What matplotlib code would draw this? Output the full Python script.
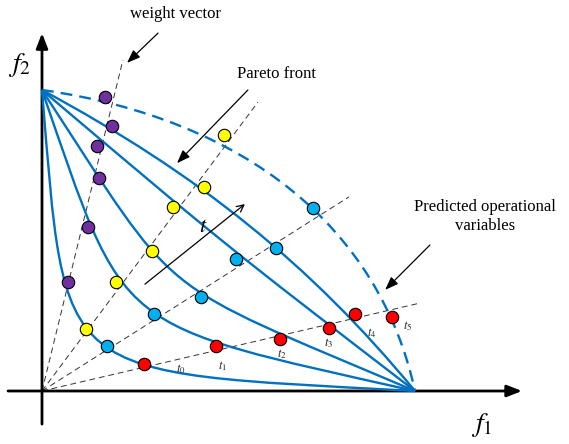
import numpy as np
import matplotlib
matplotlib.use("Agg")
import matplotlib.pyplot as plt
from matplotlib.path import Path
from matplotlib.patches import PathPatch

plt.rcParams['font.family'] = ['Liberation Serif', 'DejaVu Serif']
plt.rcParams['mathtext.fontset'] = 'stix'

# ---- data (objective space, normalised f1/f2 units) ----
curve_labels = ["t0", "t1", "t2", "t3", "t4", "t5"]
front_start = (0.0, 1.0)
front_end = (1.0, 0.0)
# cubic Bezier control points of each front (t0..t5)
ctrl1_f1 = [0.065, 0.226, 0.376, 0.488, 0.420, 0.544]
ctrl1_f2 = [0.025, 0.186, 0.286, 0.488, 0.720, 0.904]
ctrl2_f1 = [0.025, 0.186, 0.286, 0.488, 0.720, 0.904]
ctrl2_f2 = [0.065, 0.226, 0.376, 0.488, 0.420, 0.544]
curve_dashed = [False, False, False, False, False, True]

# weight vector end points (start at origin)
wv_f1 = [0.217, 0.579, 0.823, 1.013]
wv_f2 = [1.100, 0.960, 0.645, 0.292]

# predicted points along each weight vector (t0..t5)
purple_f1 = [0.070, 0.123, 0.153, 0.147, 0.188, 0.169]
purple_f2 = [0.362, 0.545, 0.708, 0.814, 0.880, 0.977]
yellow_f1 = [0.118, 0.198, 0.295, 0.351, 0.434, 0.488]
yellow_f2 = [0.206, 0.362, 0.465, 0.611, 0.678, 0.850]
blue_f1 = [0.174, 0.300, 0.426, 0.520, 0.627, 0.727]
blue_f2 = [0.150, 0.256, 0.312, 0.439, 0.475, 0.608]
red_f1 = [0.273, 0.466, 0.638, 0.769, 0.839, 0.938]
red_f2 = [0.090, 0.150, 0.173, 0.209, 0.256, 0.246]

# t-label positions
tlab_f1 = [0.373, 0.485, 0.643, 0.769, 0.885, 0.981]
tlab_f2 = [0.073, 0.083, 0.123, 0.159, 0.193, 0.216]

CURVE_BLUE = "#0070C0"

fig = plt.figure(figsize=(5.69, 4.44), dpi=100)
ax = fig.add_axes([0, 0, 1, 1])
ax.set_xlim(-42 / 373, (569 - 42) / 373)
ax.set_ylim(-53 / 301, 391 / 301)
ax.axis("off")

# axes with arrows
ax.annotate("", xy=(1.287, 0), xytext=(-0.091, 0),
            arrowprops=dict(arrowstyle="-|>,head_length=0.9,head_width=0.35",
                            color="black", lw=2.0, shrinkA=0, shrinkB=0))
ax.annotate("", xy=(0, 1.189), xytext=(0, -0.11),
            arrowprops=dict(arrowstyle="-|>,head_length=0.9,head_width=0.35",
                            color="black", lw=2.0, shrinkA=0, shrinkB=0))
ax.text(-0.059, 1.083, r"$f_2$", fontsize=20, ha="center", va="center")
ax.text(1.18, -0.113, r"$f_1$", fontsize=20, ha="center", va="center")

# weight vectors
for x1, y1 in zip(wv_f1, wv_f2):
    ax.plot([0, x1], [0, y1], color="#333333", lw=0.7, ls=(0, (6, 4)), zorder=2)

# fronts (cubic Bezier curves)
codes = [Path.MOVETO, Path.CURVE4, Path.CURVE4, Path.CURVE4]
for a1, b1, a2, b2, dashed in zip(ctrl1_f1, ctrl1_f2, ctrl2_f1, ctrl2_f2, curve_dashed):
    verts = [front_start, (a1, b1), (a2, b2), front_end]
    patch = PathPatch(Path(verts, codes), facecolor="none", edgecolor=CURVE_BLUE,
                      lw=1.7, ls=(0, (5, 3)) if dashed else "-", zorder=3)
    ax.add_patch(patch)

# points
for xs, ys, c in [(purple_f1, purple_f2, "#7030A0"),
                  (yellow_f1, yellow_f2, "#FFFF00"),
                  (blue_f1, blue_f2, "#00B0F0"),
                  (red_f1, red_f2, "#FF0000")]:
    ax.scatter(xs, ys, s=80, color=c, edgecolor="black", linewidth=0.8, zorder=5)

# t labels
for lab, x, y in zip(curve_labels, tlab_f1, tlab_f2):
    ax.text(x, y, r"$t_{%s}$" % lab[1], fontsize=9, ha="center", va="center", color="#222222")

# t arrow
ax.annotate("", xy=(0.544, 0.621), xytext=(0.276, 0.355),
            arrowprops=dict(arrowstyle="->,head_length=0.5,head_width=0.25",
                            color="black", lw=0.9, shrinkA=0, shrinkB=0))
ax.text(0.432, 0.542, r"$t$", fontsize=16, ha="center", va="center")

# annotations
filled = dict(arrowstyle="-|>,head_length=0.8,head_width=0.3", color="black",
              lw=0.9, shrinkA=0, shrinkB=0)
ax.annotate("", xy=(0.228, 1.090), xytext=(0.311, 1.189), arrowprops=filled)
ax.text(0.359, 1.252, "weight vector", fontsize=12, ha="center", va="center")
ax.annotate("", xy=(0.362, 0.757), xytext=(0.552, 1.0), arrowprops=filled)
ax.text(0.630, 1.053, "Pareto front", fontsize=12, ha="center", va="center")
ax.annotate("", xy=(0.920, 0.336), xytext=(1.040, 0.485), arrowprops=filled)
ax.text(1.188, 0.581, "Predicted operational\nvariables", fontsize=12,
        ha="center", va="center", linespacing=1.25)

fig.savefig("out.png", dpi=100)
